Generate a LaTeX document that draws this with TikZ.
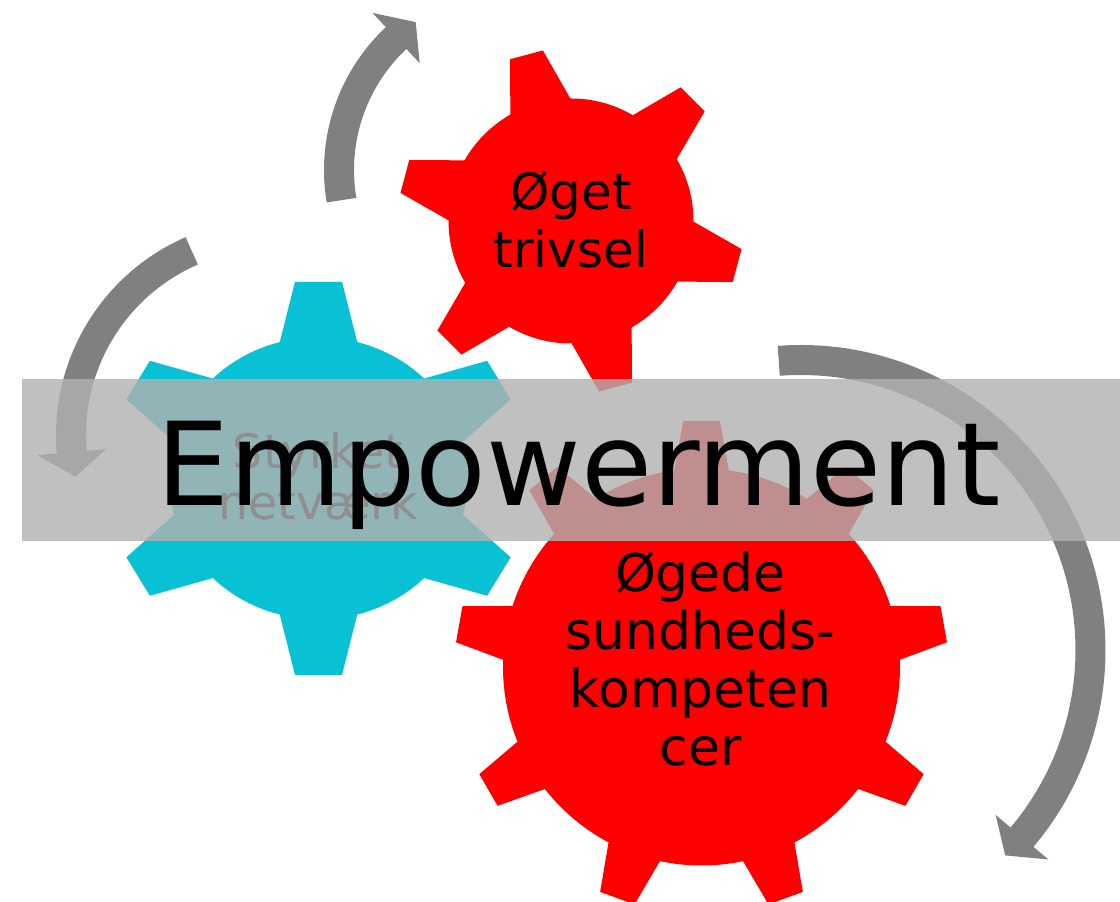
\documentclass[tikz,border=0pt]{standalone}
\usepackage{fontspec}
\setmainfont{DejaVu Sans}
\definecolor{gearred}{RGB}{255,0,0}
\definecolor{gearcyan}{RGB}{9,193,212}
\definecolor{arrowgray}{RGB}{128,128,128}
\definecolor{bandgray}{RGB}{177,177,177}

% Gear: colour, centre, x-stretch, body radius, tip radius,
% tooth base half-width, tooth tip half-width, tooth count, first tooth angle
\newcommand{\gearfill}[9]{%
  \begin{scope}[shift={#2}, xscale=#3]
    \fill[#1] (0,0) circle[radius=#4];
    \foreach \k in {1,...,#8}{%
      \pgfmathsetmacro{\ang}{#9+360*(\k-1)/#8}%
      \pgfmathsetmacro{\bw}{#6+8*(#6-#7)/(#5-#4)}%
      \fill[#1, rotate=\ang] ({#4-8},{-\bw}) -- (#5,{-#7}) -- (#5,#7) -- ({#4-8},\bw) -- cycle;
    }
  \end{scope}}

% Circular arrow: centre, radius, tail angle, head base angle, tip angle
\newcommand{\circarrow}[5]{%
  \begin{scope}[shift={#1}]
    \draw[arrowshaft] ({#3}:#2) arc[start angle=#3, end angle={#4+0.15*(#5-#4)}, radius=#2];
    \fill[arrowgray] ({#4}:{#2-34.5}) -- ({#5}:#2) -- ({#4}:{#2+34.5}) -- cycle;
  \end{scope}}

\tikzset{
  arrowshaft/.style={draw=arrowgray, line width=30pt, line cap=butt},
  lbl/.style={inner sep=0pt, text=black, anchor=base},
}

\begin{document}
\begin{tikzpicture}[x=1pt, y=1pt]
  \useasboundingbox (0,0) rectangle (1120,902);

  % cycle arrows
  \circarrow{(520,732)}{181}{189.6}{133.2}{125.2}
  \circarrow{(271.8,467)}{200.8}{113.5}{184.9}{192}
  \circarrow{(800.5,252)}{290}{94.3}{-40.2}{-45.1}

  % gears
  \gearfill{gearred}{(571,681)}{1}{122.5}{172}{30}{17}{6}{45}
  \gearfill{gearcyan}{(318.5,423.7)}{1.06}{141}{196.5}{35.4}{22.2}{6}{30}
  \gearfill{gearred}{(701.5,235)}{1}{198.5}{246}{27}{18.3}{9}{10}

  % gear labels
  \node[lbl, font=\fontsize{50}{58}\selectfont] (trivsel) at (571,692)
    {\begin{tabular}[t]{@{}c@{}}Øget\\trivsel\end{tabular}};
  \node[lbl, font=\fontsize{47.5}{51}\selectfont] (netvaerk) at (318,433.7)
    {\begin{tabular}[t]{@{}c@{}}Styrket\\netværk\end{tabular}};
  \node[lbl, font=\fontsize{52}{58}\selectfont] (sundhed) at (700.5,310.3)
    {\begin{tabular}[t]{@{}c@{}}Øgede\\sundheds-\\kompeten\\cer\end{tabular}};

  % translucent banner
  \fill[bandgray, fill opacity=0.81] (22,361) rectangle (1120,523);
  \node[lbl, font=\fontsize{115.7}{140}\selectfont] (empowerment) at (578.5,396) {Empowerment};
\end{tikzpicture}
\end{document}
